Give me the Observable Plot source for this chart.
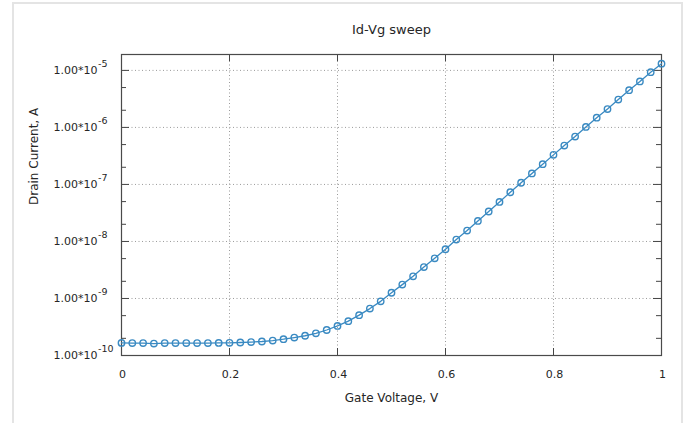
<!DOCTYPE html>
<html><head><meta charset="utf-8">
<script src="https://cdn.jsdelivr.net/npm/d3@7"></script>
<script src="https://cdn.jsdelivr.net/npm/@observablehq/plot@0.6"></script>
<style>
body{margin:0;background:#fff;}
#wrap{position:relative;width:687px;height:423px;overflow:hidden;background:#fff;}
#border{position:absolute;left:12px;top:2px;width:671px;height:440px;border:2px solid #e4e4e4;box-sizing:border-box;}
#chart{position:absolute;left:0;top:0;}
</style></head><body>
<div id="wrap"><div id="border"></div><div id="chart"></div></div>
<script>
const title = "Id-Vg sweep";
const xLabel = "Gate Voltage, V";
const yLabel = "Drain Current, A";

const gateVoltage = [0,0.02,0.04,0.06,0.08,0.10,0.12,0.14,0.16,0.18,
  0.20,0.22,0.24,0.26,0.28,0.30,0.32,0.34,0.36,0.38,
  0.40,0.42,0.44,0.46,0.48,0.50,0.52,0.54,0.56,0.58,
  0.60,0.62,0.64,0.66,0.68,0.70,0.72,0.74,0.76,0.78,
  0.80,0.82,0.84,0.86,0.88,0.90,0.92,0.94,0.96,0.98,1.00];
const drainCurrent = [1.66e-10,1.65e-10,1.65e-10,1.62e-10,1.65e-10,1.65e-10,1.65e-10,1.65e-10,1.65e-10,1.66e-10,
  1.67e-10,1.69e-10,1.72e-10,1.76e-10,1.83e-10,1.93e-10,2.06e-10,2.22e-10,2.45e-10,2.80e-10,
  3.30e-10,4.00e-10,5.10e-10,6.65e-10,8.90e-10,1.26e-9,1.75e-9,2.45e-9,3.56e-9,5.07e-9,
  7.30e-9,1.08e-8,1.55e-8,2.29e-8,3.35e-8,4.94e-8,7.30e-8,1.07e-7,1.56e-7,2.27e-7,
  3.30e-7,4.80e-7,6.90e-7,1.02e-6,1.48e-6,2.10e-6,3.08e-6,4.50e-6,6.40e-6,9.30e-6,1.31e-5];

const xTicks = [0,0.2,0.4,0.6,0.8,1];
const xTickLabels = ["0","0.2","0.4","0.6","0.8","1"];
const xGrid = [0.2,0.4,0.6,0.8];
const yTicks = [1e-10,1e-9,1e-8,1e-7,1e-6,1e-5];
const yTickBase = ["1.00*10","1.00*10","1.00*10","1.00*10","1.00*10","1.00*10"];
const yTickExponents = ["-10","-9","-8","-7","-6","-5"];
const yGrid = [1e-9,1e-8,1e-7,1e-6,1e-5];
const yMinorTicks = [2e-10,5e-10,2e-9,5e-9,2e-8,5e-8,2e-7,5e-7,2e-6,5e-6];

const data = gateVoltage.map((v,i)=>({v, id: drainCurrent[i]}));
const xT = xTicks.map((t,i)=>({t, label: xTickLabels[i]}));
const yT = yTicks.map((t,i)=>({t, base: yTickBase[i], exp: yTickExponents[i]}));

const W = 687, H = 423, mL = 121, mR = 26, mT = 54, mB = 68;
const fw = W - mL - mR, fh = H - mT - mB;
const lineColor = "#3a8ac2";
const font = "DejaVu Sans, sans-serif";
const txt = "#262626";

const chart = Plot.plot({
  width: W, height: H,
  marginLeft: mL, marginRight: mR, marginTop: mT, marginBottom: mB,
  style: {fontFamily: font, background: "transparent", overflow: "visible"},
  x: {domain: [0,1], axis: null},
  y: {type: "log", domain: [1e-10, 1.9e-5], axis: null},
  marks: [
    Plot.ruleX(xGrid, {x: d=>d, stroke: "#9a9a9a", strokeDasharray: "1,2.5", strokeWidth: 1}),
    Plot.ruleY(yGrid, {y: d=>d, stroke: "#9a9a9a", strokeDasharray: "1,2.5", strokeWidth: 1}),
    // major ticks inward, four sides
    Plot.tickX(xTicks, {x: d=>d, insetTop: fh - 7, stroke: "#444"}),
    Plot.tickX(xTicks, {x: d=>d, insetBottom: fh - 7, stroke: "#444"}),
    Plot.tickY(yTicks, {y: d=>d, insetRight: fw - 8, stroke: "#444"}),
    Plot.tickY(yTicks, {y: d=>d, insetLeft: fw - 8, stroke: "#444"}),
    Plot.tickY(yMinorTicks, {y: d=>d, insetRight: fw - 5, stroke: "#444"}),
    Plot.tickY(yMinorTicks, {y: d=>d, insetLeft: fw - 5, stroke: "#444"}),
    Plot.frame({stroke: "#4a4a4a", strokeWidth: 1.2}),
    Plot.line(data, {x: "v", y: "id", stroke: lineColor, strokeWidth: 1.3}),
    Plot.dot(data, {x: "v", y: "id", r: 3.2, stroke: lineColor, strokeWidth: 1.4, fill: "none"}),
    // tick labels
    Plot.text(xT, {x: "t", text: "label", frameAnchor: "bottom", lineAnchor: "middle", dy: 18.5, dx: 1, fontSize: 11, fill: txt}),
    Plot.text(yT, {y: "t", text: "base", frameAnchor: "left", lineAnchor: "middle", dx: -24, textAnchor: "end", fontSize: 11, fill: txt}),
    Plot.text(yT, {y: "t", text: "exp", frameAnchor: "left", lineAnchor: "middle", dx: -23.5, dy: -6.5, textAnchor: "start", fontSize: 9.5, fill: txt}),
    // titles
    Plot.text([title], {text: d=>d, frameAnchor: "top", lineAnchor: "middle", dy: -25, fontSize: 13, fill: txt}),
    Plot.text([xLabel], {text: d=>d, frameAnchor: "bottom", lineAnchor: "middle", dy: 43, fontSize: 12, fill: txt}),
    Plot.text([yLabel], {text: d=>d, frameAnchor: "left", lineAnchor: "middle", dx: -87, rotate: -90, fontSize: 12, fill: txt})
  ]
});
document.getElementById("chart").appendChild(chart);
</script>
</body></html>
